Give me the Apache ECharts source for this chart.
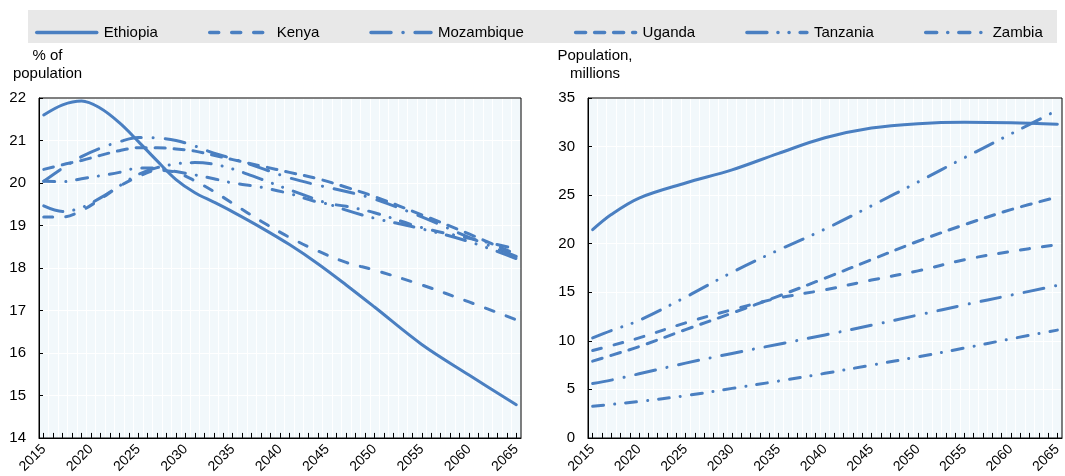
<!DOCTYPE html>
<html>
<head>
<meta charset="utf-8">
<script src="https://cdn.jsdelivr.net/npm/echarts@6/dist/echarts.min.js"></script>
<style>
html,body{margin:0;padding:0;background:#fff;}
#chart{width:1065px;height:476px;}
</style>
</head>
<body>
<div id="chart"></div>
<script>
// ---- categories ----
const categories = [];
for (let y = 2015; y <= 2065; y++) categories.push(String(y));

const countries = ['Ethiopia', 'Kenya', 'Mozambique', 'Uganda', 'Tanzania', 'Zambia'];

// ---- left panel: % of population ----
const shareYears = [2015, 2017, 2019, 2021, 2023, 2025, 2027, 2029, 2031, 2033, 2035, 2038, 2041, 2044, 2047, 2050, 2055, 2060, 2065];
const shareEthiopia   = [21.60, 21.84, 21.93, 21.76, 21.42, 20.98, 20.52, 20.08, 19.77, 19.55, 19.32, 18.95, 18.55, 18.10, 17.60, 17.08, 16.20, 15.48, 14.78];
const shareKenya      = [19.20, 19.20, 19.35, 19.62, 19.92, 20.15, 20.30, 20.25, 20.05, 19.80, 19.52, 19.10, 18.72, 18.40, 18.13, 17.95, 17.60, 17.20, 16.78];
const shareMozambique = [20.04, 20.35, 20.62, 20.82, 20.97, 21.07, 21.06, 21.00, 20.87, 20.70, 20.57, 20.35, 20.12, 19.95, 19.80, 19.62, 19.20, 18.72, 18.27];
const shareUganda     = [20.32, 20.43, 20.53, 20.65, 20.76, 20.83, 20.83, 20.80, 20.75, 20.65, 20.55, 20.40, 20.25, 20.10, 19.90, 19.68, 19.25, 18.80, 18.32];
const shareTanzania   = [19.46, 19.33, 19.42, 19.65, 19.93, 20.20, 20.36, 20.45, 20.48, 20.44, 20.33, 20.09, 19.84, 19.60, 19.36, 19.17, 18.92, 18.62, 18.22];
const shareZambia     = [20.04, 20.03, 20.10, 20.17, 20.25, 20.35, 20.35, 20.27, 20.19, 20.10, 20.00, 19.90, 19.75, 19.55, 19.45, 19.30, 18.95, 18.70, 18.45];

// ---- right panel: population, millions ----
const popYears = [2015, 2017, 2020, 2025, 2030, 2035, 2040, 2045, 2050, 2055, 2060, 2065];
const popEthiopia   = [21.44, 23.00, 24.70, 26.25, 27.60, 29.30, 30.90, 31.90, 32.35, 32.50, 32.45, 32.30];
const popKenya      = [9.00, 9.50, 10.30, 11.85, 13.20, 14.40, 15.25, 16.25, 17.20, 18.35, 19.20, 19.90];
const popMozambique = [5.60, 5.95, 6.60, 7.70, 8.70, 9.65, 10.60, 11.60, 12.65, 13.70, 14.70, 15.70];
const popUganda     = [7.90, 8.50, 9.40, 11.15, 12.85, 14.60, 16.45, 18.35, 20.25, 21.95, 23.50, 24.80];
const popTanzania   = [10.30, 11.05, 12.10, 14.50, 17.05, 19.35, 21.50, 23.90, 26.35, 28.85, 31.30, 33.75];
const popZambia     = [3.25, 3.45, 3.75, 4.35, 5.10, 5.85, 6.65, 7.50, 8.35, 9.25, 10.20, 11.10];

const yTicksLeft = {min: 14, max: 22, interval: 1};
const yTicksRight = {min: 0, max: 35, interval: 5};

// ---- styles ----
const COLOR = '#4a7fc1';
const FONT = "'Liberation Sans', Arial, sans-serif";
const dashes = {
  Ethiopia: 'solid',
  Kenya: [9, 13],
  Mozambique: [20, 12, 0.1, 12],
  Uganda: [10, 9],
  Tanzania: [20, 11, 0.1, 11, 0.1, 11],
  Zambia: [11, 11, 0.1, 11]
};
const shareData = {Ethiopia: shareEthiopia, Kenya: shareKenya, Mozambique: shareMozambique, Uganda: shareUganda, Tanzania: shareTanzania, Zambia: shareZambia};
const popData = {Ethiopia: popEthiopia, Kenya: popKenya, Mozambique: popMozambique, Uganda: popUganda, Tanzania: popTanzania, Zambia: popZambia};

function pairs(years, vals) { return years.map((y, i) => [String(y), vals[i]]); }

function mkSeries(name, years, vals, idx) {
  return {
    name: name, type: 'line', xAxisIndex: idx, yAxisIndex: idx,
    data: pairs(years, vals), smooth: 0.35, symbol: 'none', showSymbol: false,
    color: COLOR,
    lineStyle: {color: COLOR, width: 3, type: dashes[name], cap: 'round', join: 'round'},
    emphasis: {disabled: true}, animation: false, z: 3
  };
}

const series = [];
countries.forEach(c => series.push(mkSeries(c, shareYears, shareData[c], 0)));
countries.forEach(c => series.push(mkSeries(c, popYears, popData[c], 1)));

const grids = [
  {left: 39, right: 544, top: 98, bottom: 38},
  {left: 588, right: 3, top: 98, bottom: 38}
];

function xAxis(idx) {
  return {
    type: 'category', gridIndex: idx, data: categories, boundaryGap: true,
    axisLine: {show: true, lineStyle: {color: '#000', width: 1}},
    axisTick: {show: true, inside: true, interval: 0, alignWithLabel: true, length: 5, lineStyle: {color: '#000', width: 1}},
    axisLabel: {interval: 4, rotate: 45, fontSize: 14, color: '#000', fontFamily: FONT, margin: 9},
    splitLine: {show: true, interval: 0, lineStyle: {color: '#ffffff', width: 1}}
  };
}
function yAxis(idx, t) {
  return {
    type: 'value', gridIndex: idx, min: t.min, max: t.max, interval: t.interval,
    axisLine: {show: true, lineStyle: {color: '#000', width: 1}},
    axisTick: {show: true, inside: true, length: 4, lineStyle: {color: '#000'}},
    axisLabel: {fontSize: 15, color: '#000', fontFamily: FONT, margin: 13},
    splitLine: {show: true, lineStyle: {color: '#ffffff', width: 1}}
  };
}

const W = 1065, H = 476;
function frame(g) {
  return {type: 'rect', z: 50, silent: true,
    shape: {x: g.left, y: g.top, width: W - g.left - g.right, height: H - g.top - g.bottom},
    style: {fill: null, stroke: '#000', lineWidth: 1}};
}

const option = {
  animation: false,
  backgroundColor: '#ffffff',
  textStyle: {fontFamily: FONT},
  grid: grids.map(g => Object.assign({show: true, backgroundColor: '#f2f8fb', borderWidth: 0}, g)),
  xAxis: [xAxis(0), xAxis(1)],
  yAxis: [yAxis(0, yTicksLeft), yAxis(1, yTicksRight)],
  legend: {
    data: countries, left: 30, top: 20, itemWidth: 60, itemHeight: 14, itemGap: 50,
    itemStyle: {opacity: 0},
    lineStyle: {width: 3.5},
    textStyle: {fontSize: 15, color: '#000', fontFamily: FONT, padding: [0, 0, 0, 2]},
    selectedMode: false, z: 10
  },
  graphic: [
    {type: 'rect', z: 0, silent: true, shape: {x: 28, y: 10, width: 1029, height: 33}, style: {fill: '#e8e8e8'}},
    frame(grids[0]), frame(grids[1]),
    {type: 'text', z: 10, x: 47.5, y: 47, style: {text: '% of\npopulation', font: '15px ' + FONT, fill: '#000', textAlign: 'center', lineHeight: 18}},
    {type: 'text', z: 10, x: 595, y: 47, style: {text: 'Population,\nmillions', font: '15px ' + FONT, fill: '#000', textAlign: 'center', lineHeight: 18}}
  ],
  series: series
};

const chart = echarts.init(document.getElementById('chart'), null, {renderer: 'canvas'});
chart.setOption(option);
</script>
</body>
</html>
